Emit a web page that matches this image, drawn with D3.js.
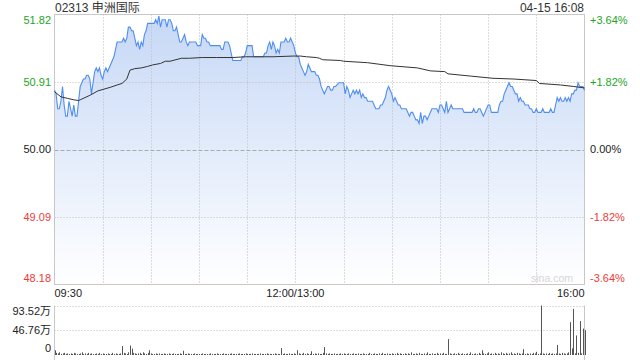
<!DOCTYPE html>
<html><head><meta charset="utf-8">
<script src="https://cdn.jsdelivr.net/npm/d3@7"></script>
<style>
body{margin:0;background:#fff}
svg{display:block}
text{font-family:"Liberation Sans",Arial,"Noto Sans CJK SC",sans-serif}
</style>
</head><body><svg id="c" width="640" height="360"></svg>
<script>
const title = "02313 申洲国际";
const stamp = "04-15 16:08";
const prevClose = 50.00;
const priceTicks = [48.18, 49.09, 50.00, 50.91, 51.82];
const pctTicks = ["-3.64%", "-1.82%", "0.00%", "+1.82%", "+3.64%"];
const timeTickMin = [0, 150, 330];
const timeLabels = ["09:30", "12:00/13:00", "16:00"];
const volTicks = [0, 46.76, 93.52];
const volLabels = ["0", "46.76万", "93.52万"];

// minute index (0 = 09:30, 150 = 12:00/13:00, 330 = 16:00)
const priceMin = [0,1,2,3,4,5,6,7,8,9,10,11,12,13,14,15,16,17,18,19,20,21,22,23,24,25,26,27,28,29,30,31,32,33,34,35,37,38,39,41,42,43,44,45,46,47,48,49,50,51,52,53,54,55,56,57,58,60,61,62,63,64,65,66,67,68,69,70,71,72,73,74,75,76,77,78,79,80,81,82,83,84,85,88,89,90,91,92,93,94,95,96,97,99,101,103,104,105,106,108,109,110,111,113,116,117,118,119,120,123,124,126,128,130,131,132,133,134,135,136,137,138,139,140,141,142,143,144,145,146,147,148,149,150,151,152,153,154,155,156,157,158,159,160,161,162,163,164,165,166,167,168,169,170,171,172,173,174,175,177,178,179,180,181,182,183,184,185,186,187,188,189,190,191,192,193,194,195,196,198,199,200,201,202,203,204,205,206,207,208,209,210,211,212,213,214,215,216,217,219,220,221,222,223,224,225,226,227,228,229,230,231,232,233,234,235,236,237,238,239,240,241,242,243,244,245,246,247,248,251,253,254,255,257,259,260,261,262,263,264,265,266,267,268,269,270,271,272,273,275,276,277,278,279,280,281,282,283,284,285,286,287,288,289,290,291,292,293,294,295,296,297,298,299,300,301,302,303,304,305,306,308,309,310,311,312,313,314,315,316,317,318,319,320,321,322,323,324,325,326,327,328,329,330];
const priceVal = [50.80,50.75,50.55,50.55,50.65,50.85,50.60,50.45,50.45,50.65,50.55,50.45,50.60,50.45,50.45,50.65,50.85,50.90,50.95,50.95,51.00,51.00,50.95,50.75,50.90,51.05,51.10,51.05,51.10,51.00,50.95,51.05,51.10,51.05,51.10,51.15,51.25,51.35,51.45,51.45,51.45,51.50,51.45,51.50,51.65,51.65,51.60,51.60,51.50,51.40,51.45,51.35,51.45,51.40,51.55,51.60,51.70,51.70,51.70,51.70,51.75,51.70,51.80,51.65,51.75,51.75,51.75,51.65,51.75,51.75,51.70,51.60,51.60,51.65,51.55,51.45,51.45,51.50,51.55,51.45,51.40,51.45,51.45,51.45,51.40,51.40,51.40,51.55,51.50,51.50,51.45,51.45,51.40,51.40,51.40,51.40,51.35,51.35,51.45,51.45,51.40,51.30,51.20,51.20,51.20,51.25,51.25,51.30,51.40,51.40,51.25,51.25,51.25,51.25,51.30,51.30,51.40,51.45,51.35,51.45,51.40,51.30,51.35,51.30,51.45,51.45,51.45,51.50,51.45,51.45,51.50,51.45,51.40,51.30,51.25,51.25,51.15,51.10,51.05,51.00,51.05,51.15,51.10,51.05,51.05,51.05,51.00,51.00,50.95,50.85,50.80,50.75,50.80,50.85,50.85,50.80,50.80,50.85,50.85,50.90,50.90,50.90,50.90,50.75,50.85,50.80,50.70,50.75,50.80,50.75,50.80,50.75,50.80,50.70,50.75,50.70,50.70,50.65,50.65,50.65,50.60,50.55,50.55,50.55,50.60,50.60,50.65,50.70,50.80,50.85,50.80,50.75,50.65,50.70,50.65,50.60,50.60,50.55,50.55,50.55,50.50,50.45,50.50,50.50,50.45,50.40,50.40,50.35,50.50,50.35,50.45,50.45,50.40,50.45,50.50,50.55,50.55,50.55,50.55,50.50,50.60,50.60,50.55,50.50,50.65,50.50,50.55,50.60,50.55,50.55,50.55,50.55,50.50,50.50,50.50,50.50,50.55,50.50,50.50,50.55,50.55,50.50,50.45,50.50,50.55,50.60,50.60,50.50,50.50,50.50,50.50,50.60,50.65,50.65,50.75,50.80,50.85,50.90,50.85,50.85,50.80,50.75,50.75,50.65,50.70,50.65,50.65,50.60,50.60,50.60,50.55,50.55,50.50,50.50,50.55,50.50,50.50,50.50,50.55,50.50,50.50,50.50,50.55,50.50,50.50,50.60,50.70,50.65,50.70,50.65,50.65,50.70,50.65,50.70,50.65,50.75,50.75,50.80,50.80,50.90,50.85,50.85,50.85,50.80];

const avgMin = [0,4,8,12,15,16,22,27,35,39,42,45,47,50,54,58,61,66,69,72,79,84,92,101,111,119,124,136,149,153,157,163,165,167,178,180,195,209,226,234,243,245,259,273,286,300,302,315,323,330];
const avgVal = [50.78,50.71,50.69,50.67,50.66,50.67,50.73,50.79,50.84,50.87,50.89,50.95,51.07,51.09,51.10,51.12,51.14,51.16,51.19,51.19,51.23,51.23,51.24,51.24,51.24,51.25,51.25,51.25,51.26,51.26,51.25,51.24,51.23,51.21,51.20,51.19,51.17,51.13,51.10,51.06,51.05,51.02,50.99,50.96,50.95,50.93,50.89,50.87,50.85,50.83];

// volume per minute, in 万 shares
const volume = [
9,4,3,5,2,3,4,2,3,2, 3,2,4,3,2,2,3,5,2,3, 2,4,2,3,2,2,3,2,4,2, 3,2,2,3,2,2,4,2,3,2,
2,3,17,4,3,2,5,18,12,4, 3,2,3,4,2,5,3,2,4,9, 3,2,2,3,2,3,2,2,3,2, 2,3,2,2,3,2,2,2,3,2,
8,2,2,3,2,2,2,3,2,2, 2,2,3,2,2,2,2,3,2,2, 2,3,2,2,2,3,2,2,2,2, 3,2,2,2,2,3,2,2,2,3,
2,2,2,3,2,2,2,2,3,2, 2,2,3,2,2,2,2,3,2,2, 2,13,2,3,2,2,3,2,2,3, 2,9,3,2,2,4,2,3,2,2,
7,2,3,2,3,2,2,4,15,3, 2,3,2,2,3,2,2,2,3,2, 3,2,2,3,2,2,3,2,2,3, 2,2,3,2,2,2,4,2,2,3,
2,2,3,2,4,2,2,3,2,2, 3,2,2,4,2,3,2,2,3,2, 3,2,5,2,2,3,2,4,2,2, 3,2,5,2,2,3,2,2,4,2,
3,2,4,2,2,30,3,2,2,3, 2,4,2,2,3,2,2,3,2,5, 2,2,3,2,4,2,9,3,2,3, 5,2,3,2,4,2,3,2,5,3,
2,4,2,3,5,2,3,2,4,3, 2,3,11,2,3,2,3,2,4,3, 6,2,3,93.5,3,2,3,2,4,2, 3,2,3,19,3,2,4,3,2,3,
5,62,12.5,87,3,37,4,64,3,50, 47];

const L = 54.5, R = 584.5, T = 14.5, B = 284.5;
const VT = 305.5, VB = 355;
const green = "#1da61d", red = "#f03b3b", grid = "#bcbcbc", frame = "#c8c8c8";

const svg = d3.select("#c");
const x = d3.scaleLinear().domain([0, 330]).range([L, R]);
const y = d3.scaleLinear().domain([48.18, 51.82]).range([B, T]);
const vy = d3.scaleLinear().domain([0, 93.52]).range([VB, VT]);

const defs = svg.append("defs");
const grad = defs.append("linearGradient").attr("id", "g").attr("gradientUnits", "userSpaceOnUse")
  .attr("x1", 0).attr("x2", 0).attr("y1", T).attr("y2", B);
grad.append("stop").attr("offset", 0).attr("stop-color", "rgb(198,216,246)");
grad.append("stop").attr("offset", 1).attr("stop-color", "#ffffff");

const pts = priceMin.map((m, i) => [m, priceVal[i]]);
const avgPts = avgMin.map((m, i) => [m, avgVal[i]]);

// area
svg.append("path").datum(pts)
  .attr("d", d3.area().x(d => x(d[0])).y0(B).y1(d => y(d[1])))
  .attr("fill", "url(#g)");

// grid
const vgrid = d3.range(30, 330, 30);
svg.append("g").selectAll("line").data(vgrid).join("line")
  .attr("x1", d => Math.round(x(d)) + 0.5).attr("x2", d => Math.round(x(d)) + 0.5)
  .attr("y1", T).attr("y2", B).attr("stroke", grid).attr("stroke-dasharray", "1,2");
svg.append("g").selectAll("line").data(priceTicks.slice(1, 4)).join("line")
  .attr("x1", L).attr("x2", R)
  .attr("y1", d => Math.round(y(d)) + 0.5).attr("y2", d => Math.round(y(d)) + 0.5)
  .attr("stroke", d => d === prevClose ? "#aaa" : grid)
  .attr("stroke-dasharray", d => d === prevClose ? "4,2" : "1,2");

// frame
svg.append("rect").attr("x", L).attr("y", T).attr("width", R - L).attr("height", B - T)
  .attr("fill", "none").attr("stroke", frame);

// watermark
svg.append("text").attr("x", 573).attr("y", 282).attr("text-anchor", "end")
  .attr("font-size", "10.5px").attr("fill", "#d6d6d6").text("sina.com");

// lines
svg.append("path").datum(pts)
  .attr("d", d3.line().x(d => x(d[0])).y(d => y(d[1])))
  .attr("fill", "none").attr("stroke", "#4f8ef0").attr("stroke-width", 1.1);
svg.append("path").datum(avgPts)
  .attr("d", d3.line().x(d => x(d[0])).y(d => y(d[1])))
  .attr("fill", "none").attr("stroke", "#333").attr("stroke-width", 1);

// price labels
const colorFor = v => v > prevClose + 1e-9 ? green : (v < prevClose - 1e-9 ? red : "#222");
const clampY = v => Math.max(T + 6, Math.min(B - 6.5, y(v)));
svg.append("g").selectAll("text").data(priceTicks).join("text")
  .attr("x", 51).attr("y", d => clampY(d)).attr("dy", "0.35em")
  .attr("text-anchor", "end").attr("font-size", "11px")
  .attr("fill", colorFor).text(d => d.toFixed(2));
svg.append("g").selectAll("text").data(priceTicks).join("text")
  .attr("x", 590).attr("y", d => clampY(d)).attr("dy", "0.35em")
  .attr("text-anchor", "start").attr("font-size", "11px")
  .attr("fill", colorFor).text((d, i) => pctTicks[i]);

// time labels
svg.append("g").selectAll("text").data(timeTickMin).join("text")
  .attr("x", d => x(d)).attr("y", 293).attr("dy", "0.35em")
  .attr("text-anchor", (d, i) => i === 0 ? "start" : (i === timeTickMin.length - 1 ? "end" : "middle"))
  .attr("font-size", "11px").attr("fill", "#222").text((d, i) => timeLabels[i]);

// title and stamp
svg.append("text").attr("x", 55).attr("y", 12).attr("font-size", "12px").attr("fill", "#333").text(title);
svg.append("text").attr("x", 584).attr("y", 12).attr("text-anchor", "end").attr("font-size", "12px").attr("fill", "#333").text(stamp);

// volume panel
svg.append("g").selectAll("line").data(volTicks.slice(1)).join("line")
  .attr("x1", L).attr("x2", R)
  .attr("y1", d => Math.round(vy(d)) + 0.5).attr("y2", d => Math.round(vy(d)) + 0.5)
  .attr("stroke", grid).attr("stroke-dasharray", "1,2");
svg.append("line").attr("x1", L).attr("x2", L).attr("y1", VT).attr("y2", 360).attr("stroke", frame);
svg.append("line").attr("x1", R).attr("x2", R).attr("y1", VT).attr("y2", 360).attr("stroke", frame);
svg.append("g").selectAll("line").data(volume).join("line")
  .attr("x1", (d, i) => Math.round(x(i)) + 0.5).attr("x2", (d, i) => Math.round(x(i)) + 0.5)
  .attr("y1", vy(0)).attr("y2", d => vy(d))
  .attr("stroke", "#555").attr("stroke-width", 1);
const vLabelY = v => Math.max(VT + 6, Math.min(VB - 7, vy(v)));
svg.append("g").selectAll("text").data(volTicks).join("text")
  .attr("x", 51).attr("y", d => vLabelY(d)).attr("dy", "0.35em")
  .attr("text-anchor", "end").attr("font-size", "11px").attr("fill", "#222")
  .text((d, i) => volLabels[i]);
</script>
</body></html>
